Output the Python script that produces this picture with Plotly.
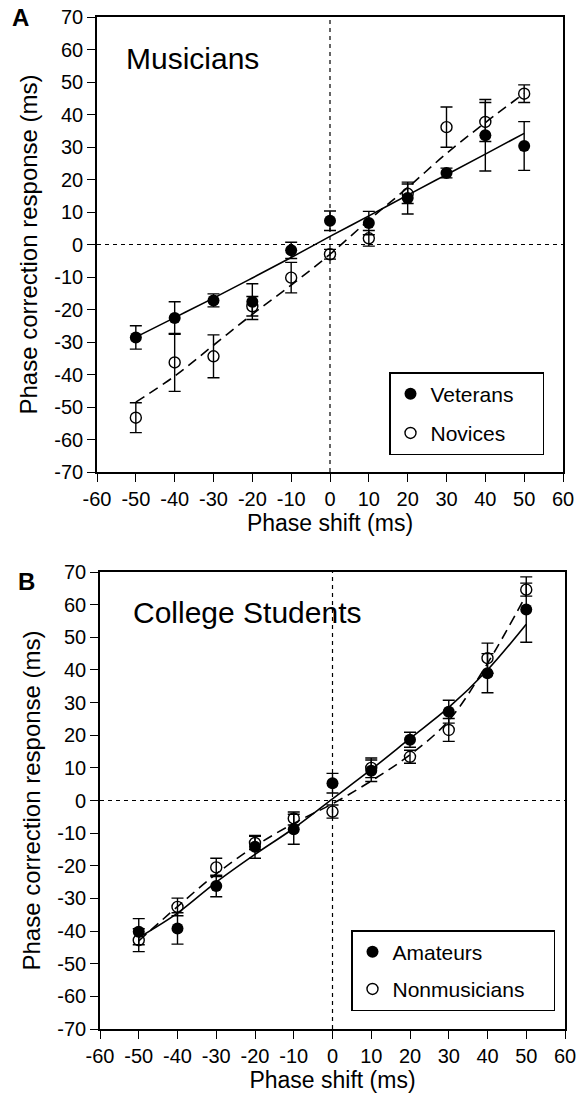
import plotly.graph_objects as go

# ---------------- data ----------------
phase_shift = [-50, -40, -30, -20, -10, 0, 10, 20, 30, 40, 50]
x_ticks = list(range(-60, 61, 10))
y_ticks = list(range(-70, 71, 10))
x_tick_text = [str(v) for v in x_ticks]
y_tick_text = [str(v) for v in y_ticks]

# Panel A: Musicians
veterans = [-28.6, -22.6, -17.2, -17.6, -1.8, 7.3, 6.6, 14.3, 22.0, 33.6, 30.3]
veterans_err = [3.6, 5.0, 2.0, 5.5, 2.5, 3.0, 3.6, 4.9, 1.5, 11.0, 7.5]
novices = [-53.3, -36.3, -34.4, -19.0, -10.2, -3.0, 1.9, 15.6, 36.1, 37.7, 46.4]
novices_err = [4.6, 8.9, 6.6, 3.0, 4.7, 1.5, 2.4, 3.0, 6.2, 6.0, 2.7]
veterans_fit = [-28.5, -22.5, -16.5, -10.3, -4.0, 2.5, 8.8, 15.2, 21.5, 27.8, 34.2]
novices_fit = [-48.5, -40.5, -31.0, -21.5, -12.5, -3.0, 7.5, 17.5, 28.0, 37.5, 46.5]

# Panel B: College students
amateurs = [-40.2, -39.2, -26.2, -14.2, -8.8, 5.3, 9.1, 18.6, 27.2, 39.0, 58.5]
amateurs_err = [4.0, 4.8, 3.3, 3.5, 4.6, 3.0, 3.3, 2.3, 3.5, 6.0, 10.0]
nonmusicians = [-42.8, -32.6, -20.5, -13.0, -5.5, -3.4, 10.0, 13.4, 21.6, 43.6, 64.6]
nonmusicians_err = [3.5, 2.7, 2.8, 2.0, 2.0, 2.0, 3.0, 2.0, 3.5, 4.6, 2.0]
amateurs_fit = [-42.0, -34.5, -25.0, -16.5, -8.5, 0.5, 9.5, 19.0, 28.5, 40.0, 54.0]
nonmusicians_fit = [-43.0, -32.5, -22.5, -14.0, -7.0, -1.0, 6.0, 14.0, 24.5, 42.0, 63.0]

FONT = "Liberation Sans, Arial, Helvetica, sans-serif"
W, H = 577, 1097
PAD = "\u00a0" * 4

fig = go.Figure()


def add_panel(xa, ya, legend, solid_y, solid_err, solid_fit, solid_name,
              open_y, open_err, open_fit, open_name):
    # fitted curves
    fig.add_trace(go.Scatter(x=phase_shift, y=solid_fit, mode="lines",
                             line=dict(color="black", width=1.6, shape="spline"),
                             xaxis=xa, yaxis=ya, showlegend=False, hoverinfo="skip"))
    fig.add_trace(go.Scatter(x=phase_shift, y=open_fit, mode="lines",
                             line=dict(color="black", width=1.6, dash="10px,6px", shape="spline"),
                             xaxis=xa, yaxis=ya, showlegend=False, hoverinfo="skip"))
    # data points
    fig.add_trace(go.Scatter(x=phase_shift, y=solid_y, mode="markers", name=solid_name + PAD,
                             marker=dict(symbol="circle", size=12, color="black"),
                             error_y=dict(type="data", array=solid_err, color="black",
                                          thickness=1.4, width=6),
                             xaxis=xa, yaxis=ya, legend=legend, legendgroup=solid_name))
    fig.add_trace(go.Scatter(x=phase_shift, y=open_y, mode="markers", name=open_name + PAD,
                             marker=dict(symbol="circle-open", size=11, color="black",
                                         line=dict(width=1.4, color="black")),
                             error_y=dict(type="data", array=open_err, color="black",
                                          thickness=1.4, width=6),
                             xaxis=xa, yaxis=ya, legend=legend, legendgroup=open_name))


add_panel("x", "y", "legend", veterans, veterans_err, veterans_fit, "Veterans",
          novices, novices_err, novices_fit, "Novices")
add_panel("x2", "y2", "legend2", amateurs, amateurs_err, amateurs_fit, "Amateurs",
          nonmusicians, nonmusicians_err, nonmusicians_fit, "Nonmusicians")


def px_x(p):
    return p / W


def px_y(p):
    return 1 - p / H


axis_common = dict(
    showline=True, linecolor="black", linewidth=1.6, mirror=True,
    ticks="outside", ticklen=8, tickwidth=1.3, tickcolor="black",
    showgrid=False, zeroline=False, automargin=False,
    tickfont=dict(family=FONT, size=20, color="black"),
)

xa = dict(axis_common, range=[-60, 60], tickmode="array", tickvals=x_ticks, ticktext=x_tick_text,
          title=dict(text="Phase shift (ms)", font=dict(family=FONT, size=23, color="black"), standoff=5))
ya = dict(axis_common, range=[-70, 70], tickmode="array", tickvals=y_ticks, ticktext=y_tick_text,
          title=dict(text="Phase correction response (ms)", font=dict(family=FONT, size=24, color="black"), standoff=10))

legend_common = dict(xanchor="left", yanchor="top", bordercolor="black", borderwidth=1.5,
                     bgcolor="white", font=dict(family=FONT, size=21, color="black"),
                     itemsizing="trace")

fig.update_layout(
    width=W, height=H,
    margin=dict(l=0, r=0, t=0, b=0),
    paper_bgcolor="white", plot_bgcolor="white",
    font=dict(family=FONT, color="black"),
    xaxis=dict(xa, domain=[px_x(97), px_x(563)], anchor="y"),
    yaxis=dict(ya, domain=[px_y(472), px_y(17)], anchor="x"),
    xaxis2=dict(xa, domain=[px_x(100), px_x(565)], anchor="y2"),
    yaxis2=dict(ya, domain=[px_y(1029), px_y(572)], anchor="x2"),
    legend=dict(legend_common, x=px_x(389), y=px_y(372), tracegroupgap=9),
    legend2=dict(legend_common, x=px_x(351), y=px_y(930), tracegroupgap=7),
)

# dotted reference lines through zero
for xr, yr in (("x", "y"), ("x2", "y2")):
    fig.add_shape(type="line", xref=xr, yref=yr + " domain", x0=0, x1=0, y0=0, y1=1,
                  line=dict(color="black", width=1.2, dash="4px,4px"), layer="below")
    fig.add_shape(type="line", xref=xr + " domain", yref=yr, x0=0, x1=1, y0=0, y1=0,
                  line=dict(color="black", width=1.2, dash="4px,4px"), layer="below")

# panel titles and letters
fig.add_annotation(text="Musicians", xref="paper", yref="paper", x=px_x(124), y=px_y(58),
                   xanchor="left", yanchor="middle", showarrow=False,
                   font=dict(family=FONT, size=30, color="black"))
fig.add_annotation(text="College Students", xref="paper", yref="paper", x=px_x(131), y=px_y(612),
                   xanchor="left", yanchor="middle", showarrow=False,
                   font=dict(family=FONT, size=30, color="black"))
fig.add_annotation(text="<b>A</b>", xref="paper", yref="paper", x=px_x(20), y=px_y(17),
                   xanchor="center", yanchor="middle", showarrow=False,
                   font=dict(family=FONT, size=24, color="black"))
fig.add_annotation(text="<b>B</b>", xref="paper", yref="paper", x=px_x(26), y=px_y(581),
                   xanchor="center", yanchor="middle", showarrow=False,
                   font=dict(family=FONT, size=24, color="black"))

fig.write_html("out.html")
